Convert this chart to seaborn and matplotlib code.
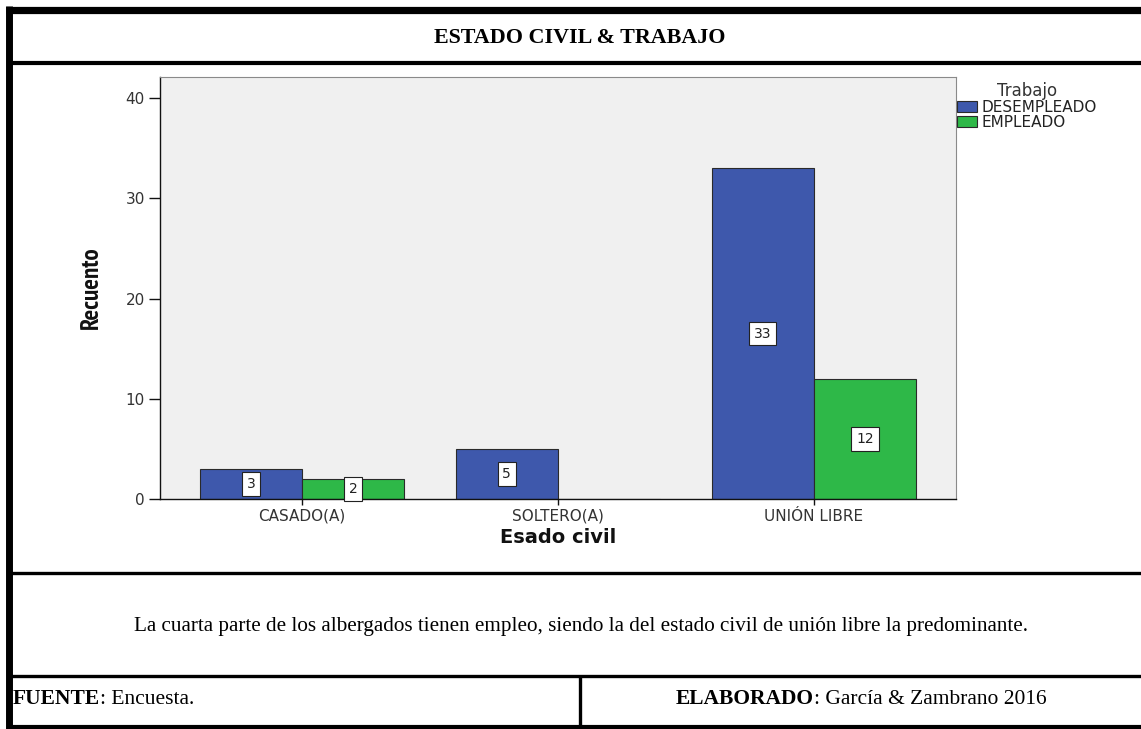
import pandas as pd
import seaborn as sns
import matplotlib.pyplot as plt
from matplotlib.lines import Line2D
from matplotlib import font_manager as fm

# -------------------------------
# DATA
# -------------------------------
estado_civil = ["CASADO(A)", "SOLTERO(A)", "UNIÓN LIBRE"]
trabajo = ["DESEMPLEADO", "EMPLEADO"]
desempleado = [3, 5, 33]
empleado = [2, 0, 12]
colores = ["#3E58AC", "#2EB848"]

df = pd.DataFrame({
    "Esado civil": estado_civil + estado_civil,
    "Trabajo": [trabajo[0]] * 3 + [trabajo[1]] * 3,
    "Recuento": desempleado + empleado,
})

sns.set_theme(style="ticks")
plt.rcParams["font.family"] = ["DejaVu Sans"]

# condensed bold face for the y label, if one is installed
narrow = None
for f in fm.fontManager.ttflist:
    if "condensed" in str(f.stretch).lower() and f.weight in ("bold", 700) \
            and f.style == "normal" and "Sans" in f.name:
        narrow = f.fname
        break
for f in fm.fontManager.ttflist:
    if "Narrow" in f.name and f.weight in ("bold", 700) and f.style == "normal":
        narrow = f.fname
        break

W, H = 1141, 729
fig = plt.figure(figsize=(W / 100, H / 100), dpi=100)


def fx(x):
    return x / W


def fy(y):
    return 1 - y / H


# plot area (pixel box of the reference)
ax = fig.add_axes([fx(160), fy(499), fx(956) - fx(160), fy(77) - fy(499)])
ax.set_facecolor("#F0F0F0")

sns.barplot(
    data=df,
    x="Esado civil",
    y="Recuento",
    hue="Trabajo",
    hue_order=trabajo,
    palette=colores,
    edgecolor="#2a2a2a",
    linewidth=0.8,
    saturation=1,
    ax=ax,
)

# value labels in white boxes
for cont in ax.containers:
    labels = [f"{v:g}" if v > 0 else "" for v in cont.datavalues]
    ax.bar_label(
        cont,
        labels=labels,
        label_type="center",
        fontsize=10,
        color="#222222",
        bbox=dict(boxstyle="square,pad=0.35", fc="white", ec="#222222", lw=0.8),
    )

ax.set_xlim(-0.555, 2.555)
ax.set_ylim(0, 42.1)
ax.set_yticks([0, 10, 20, 30, 40])

for side in ["top", "right"]:
    ax.spines[side].set_color("#8a8a8a")
    ax.spines[side].set_linewidth(0.8)
for side in ["left", "bottom"]:
    ax.spines[side].set_color("#111111")
    ax.spines[side].set_linewidth(1.0)

ax.tick_params(axis="y", length=8, width=1, pad=3, labelsize=11,
               labelcolor="#333333", color="#111111")
ax.tick_params(axis="x", length=4.5, width=1, pad=2.5, labelsize=11,
               labelcolor="#333333", color="#111111")

ax.set_xlabel("Esado civil", fontsize=14, fontweight="bold", color="#111111")
ax.xaxis.label.set_va("center")
ax.xaxis.set_label_coords(0.5, -0.0924)

if narrow:
    ax.set_ylabel("Recuento", fontproperties=fm.FontProperties(fname=narrow, size=18),
                  color="#111111")
else:
    ax.set_ylabel("Recuento", fontsize=15, fontweight="bold", color="#111111")
ax.yaxis.label.set_va("center")
ax.yaxis.set_label_coords(-0.0867, 0.5)

handles, labels = ax.get_legend_handles_labels()
leg = ax.legend(
    handles, labels,
    title="Trabajo",
    loc="upper left",
    bbox_to_anchor=(fx(957), fy(82)),
    bbox_transform=fig.transFigure,
    frameon=False,
    fontsize=11,
    title_fontsize=12,
    handlelength=1.3,
    handleheight=0.7,
    handletextpad=0.3,
    labelspacing=0.0,
    borderpad=0,
    borderaxespad=0,
)
leg.get_title().set_color("#333333")
for t in leg.get_texts():
    t.set_color("#222222")

# -------------------------------
# TABLE FRAME AROUND THE CHART
# -------------------------------
def hline(y, x0, x1, lw):
    fig.add_artist(Line2D([fx(x0), fx(x1)], [fy(y), fy(y)], color="black",
                          lw=lw, transform=fig.transFigure, solid_capstyle="butt"))


def vline(x, y0, y1, lw):
    fig.add_artist(Line2D([fx(x), fx(x)], [fy(y0), fy(y1)], color="black",
                          lw=lw, transform=fig.transFigure, solid_capstyle="butt"))


hline(9.5, 6, W, 5.2)
vline(9, 6, H, 5.0)
hline(62.5, 9, W, 3.0)
hline(572.5, 9, W, 2.4)
hline(676, 9, W, 2.4)
hline(726.5, 9, W, 3.0)
vline(580, 676, 727, 2.4)

serif = ["Liberation Serif", "DejaVu Serif"]

fig.text(fx(580), fy(38), "ESTADO CIVIL & TRABAJO", ha="center", va="center",
         fontsize=15.8, fontweight="bold", family=serif, color="black")

fig.text(fx(581), fy(627),
         "La cuarta parte de los albergados tienen empleo, siendo la del estado civil "
         "de unión libre la predominante.",
         ha="center", va="center", fontsize=15.2, family=serif, color="black")

t1 = fig.text(fx(13), fy(699), "FUENTE", ha="left", va="center",
              fontsize=15.5, fontweight="bold", family=serif, color="black")
ax.annotate(": Encuesta.", xy=(1, 0), xycoords=t1, ha="left", va="bottom",
            fontsize=15.5, family=serif, color="black", annotation_clip=False)

t2 = fig.text(fx(676), fy(699), "ELABORADO", ha="left", va="center",
              fontsize=15.5, fontweight="bold", family=serif, color="black")
ax.annotate(": García & Zambrano 2016", xy=(1, 0), xycoords=t2, ha="left", va="bottom",
            fontsize=15.5, family=serif, color="black", annotation_clip=False)

fig.savefig("out.png", dpi=100)
